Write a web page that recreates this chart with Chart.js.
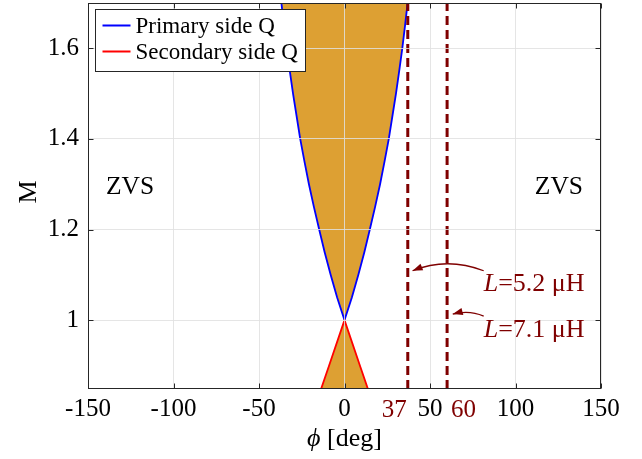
<!DOCTYPE html>
<html><head><meta charset="utf-8">
<script src="https://cdn.jsdelivr.net/npm/chart.js@4.4.0/dist/chart.umd.min.js"></script>
<style>html,body{margin:0;padding:0;background:#fff;overflow:hidden}</style>
</head><body>
<canvas id="c" width="642" height="459" style="display:block;width:642px;height:459px"></canvas>
<script>
// ---- data ----
const xTicks = [-150, -100, -50, 0, 50, 100, 150];
const yTicks = [1, 1.2, 1.4, 1.6];
const xRange = [-150, 150];
const yRange = [0.848, 1.7];
const primaryM   = [1.0, 1.05, 1.1, 1.15, 1.2, 1.25, 1.3, 1.35, 1.4, 1.45, 1.5, 1.55, 1.6, 1.65, 1.7];
const primaryPhi = [0, 4.3, 8.1, 11.6, 14.8, 17.9, 20.8, 23.4, 25.9, 28.0, 30.1, 32.0, 33.8, 35.4, 36.9];
const secondaryM   = [1.0, 0.9, 0.848];
const secondaryPhi = [0, 9.0, 13.7];
const inductorPhi = [37, 60];
const inductorValues = ['5.2', '7.1'];
const regionLabels = ['ZVS', 'ZVS'];
const regionPhi = [-125.4, 125.4];
const regionM = [1.278, 1.278];
const seriesLabels = ['Primary side Q', 'Secondary side Q'];
// annotation anchors (data coords): text baseline-left, arrow start, control, tip
const annText  = [[81.4, 1.0644], [81.4, 0.963]];
const annStart = [[81.4, 1.109], [81.4, 1.0089]];
const annCtrl  = [[60.1, 1.14], [72.9, 1.023]];
const annTip   = [[39.8, 1.109], [63.3, 1.0133]];

const DARKRED = '#7f0000';
const SERIF = '"Liberation Serif", "Times New Roman", serif';

function mirrorPolygon(m, phi) {
  const pts = [];
  for (let i = m.length - 1; i >= 0; i--) pts.push({x: -phi[i], y: m[i]});
  for (let i = 1; i < m.length; i++) pts.push({x: phi[i], y: m[i]});
  pts.push({x: -phi[m.length - 1], y: m[m.length - 1]});
  return pts;
}

const datasets = [
  {label: seriesLabels[0], data: mirrorPolygon(primaryM, primaryPhi), showLine: true, fill: 'shape',
   backgroundColor: '#dda033', borderColor: '#0000ff', borderWidth: 1.8, pointRadius: 0, tension: 0, order: 3, clip: 0},
  {label: seriesLabels[1], data: mirrorPolygon(secondaryM, secondaryPhi), showLine: true, fill: 'shape',
   backgroundColor: '#dda033', borderColor: '#ff0000', borderWidth: 1.8, pointRadius: 0, tension: 0, order: 2, clip: 0},
];
inductorPhi.forEach((p) => {
  datasets.push({label: 'L', data: [{x: p, y: yRange[0]}, {x: p, y: yRange[1]}], showLine: true, fill: false,
    borderColor: DARKRED, borderWidth: 3, borderDash: [9, 5], pointRadius: 0, order: 0, clip: 0});
});

const deco = {
  id: 'deco',
  afterDraw(chart) {
    const {ctx, chartArea: a, scales: {x, y}} = chart;
    ctx.save();
    const L = Math.floor(a.left) + 0.5, R = Math.floor(a.right) - 0.5;
    const T = Math.floor(a.top) + 0.5, B = Math.floor(a.bottom) - 0.5;
    // box
    ctx.strokeStyle = '#262626'; ctx.lineWidth = 1;
    ctx.strokeRect(L, T, R - L, B - T);
    // inward ticks
    ctx.beginPath();
    xTicks.forEach(v => { const px = Math.round(x.getPixelForValue(v)) + 0.5;
      ctx.moveTo(px, B); ctx.lineTo(px, B - 5); ctx.moveTo(px, T); ctx.lineTo(px, T + 5); });
    yTicks.forEach(v => { const py = Math.round(y.getPixelForValue(v)) + 0.5;
      ctx.moveTo(L, py); ctx.lineTo(L + 5, py); ctx.moveTo(R, py); ctx.lineTo(R - 5, py); });
    ctx.stroke();

    // axis titles
    ctx.fillStyle = '#000';
    ctx.textBaseline = 'alphabetic';
    const f26 = '26px ' + SERIF, f26i = 'italic 26px ' + SERIF;
    ctx.font = f26i; const wPhi = ctx.measureText('ϕ').width;
    ctx.font = f26; const wRest = ctx.measureText(' [deg]').width;
    const cx = (a.left + a.right) / 2, tx0 = cx - (wPhi + wRest) / 2;
    ctx.font = f26i; ctx.textAlign = 'left'; ctx.fillText('ϕ', tx0, a.bottom + 57);
    ctx.font = f26; ctx.fillText(' [deg]', tx0 + wPhi, a.bottom + 57);
    ctx.save();
    ctx.translate(36, (a.top + a.bottom) / 2 - 4); ctx.rotate(-Math.PI / 2);
    ctx.textAlign = 'center'; ctx.font = f26; ctx.fillText('M', 0, 0);
    ctx.restore();

    // 37 / 60 labels
    ctx.fillStyle = DARKRED; ctx.font = '25px ' + SERIF;
    ctx.textAlign = 'right'; ctx.fillText(String(inductorPhi[0]), x.getPixelForValue(inductorPhi[0]) - 1, a.bottom + 28);
    ctx.textAlign = 'left'; ctx.fillText(String(inductorPhi[1]), x.getPixelForValue(inductorPhi[1]) + 4, a.bottom + 28);

    // ZVS
    ctx.fillStyle = '#000'; ctx.font = '25.5px ' + SERIF; ctx.textAlign = 'center';
    regionLabels.forEach((t, i) => ctx.fillText(t, x.getPixelForValue(regionPhi[i]), y.getPixelForValue(regionM[i])));

    // annotations
    inductorValues.forEach((v, i) => {
      const px = p => [x.getPixelForValue(p[0]), y.getPixelForValue(p[1])];
      const [tx, ty] = px(annText[i]);
      ctx.fillStyle = DARKRED; ctx.textAlign = 'left';
      ctx.font = 'italic 26px ' + SERIF; ctx.fillText('L', tx, ty);
      const wl = ctx.measureText('L').width;
      ctx.font = '26px ' + SERIF; ctx.fillText('=' + v + ' μH', tx + wl, ty);
      const [sx, sy] = px(annStart[i]), [qx, qy] = px(annCtrl[i]), [ex, ey] = px(annTip[i]);
      ctx.strokeStyle = DARKRED; ctx.lineWidth = 1.3;
      ctx.beginPath(); ctx.moveTo(sx, sy); ctx.quadraticCurveTo(qx, qy, ex, ey); ctx.stroke();
      const ang = Math.atan2(ey - qy, ex - qx), hl = 10, hw = 3.6;
      ctx.beginPath();
      ctx.moveTo(ex, ey);
      ctx.lineTo(ex - hl * Math.cos(ang) + hw * Math.sin(ang), ey - hl * Math.sin(ang) - hw * Math.cos(ang));
      ctx.lineTo(ex - hl * Math.cos(ang) - hw * Math.sin(ang), ey - hl * Math.sin(ang) + hw * Math.cos(ang));
      ctx.closePath(); ctx.fillStyle = DARKRED; ctx.fill();
    });

    // legend
    const bx = Math.floor(a.left) + 7.5, by = Math.floor(a.top) + 6.5, bw = 210, bh = 62;
    ctx.fillStyle = '#fff'; ctx.fillRect(bx, by, bw, bh);
    ctx.strokeStyle = '#262626'; ctx.lineWidth = 1; ctx.strokeRect(bx, by, bw, bh);
    ctx.font = '23px ' + SERIF; ctx.textAlign = 'left'; ctx.textBaseline = 'middle';
    [0, 1].forEach(i => {
      const ly = by + 16 + i * 26;
      ctx.strokeStyle = chart.data.datasets[i].borderColor; ctx.lineWidth = 2;
      ctx.beginPath(); ctx.moveTo(bx + 7, ly); ctx.lineTo(bx + 35, ly); ctx.stroke();
      ctx.fillStyle = '#000'; ctx.fillText(chart.data.datasets[i].label, bx + 40, ly + 1);
    });
    ctx.restore();
  }
};

const gridCol = 'rgba(225,225,225,0.85)';
new Chart(document.getElementById('c'), {
  type: 'scatter',
  data: {datasets},
  options: {
    responsive: false, animation: false, devicePixelRatio: 1,
    layout: {padding: {left: 0, right: 41, top: 3, bottom: 0}},
    plugins: {legend: {display: false}, tooltip: {enabled: false}},
    scales: {
      x: {type: 'linear', min: xRange[0], max: xRange[1],
        afterBuildTicks: s => { s.ticks = xTicks.map(v => ({value: v})); },
        afterFit: s => { s.height = 70; s.paddingLeft = 0; s.paddingRight = 0; },
        ticks: {font: {family: SERIF, size: 25}, color: '#000', padding: 5, maxRotation: 0, autoSkip: false,
          callback: v => String(v)},
        grid: {color: gridCol, drawTicks: false, lineWidth: 1, z: 1},
        border: {display: false}},
      y: {type: 'linear', min: yRange[0], max: yRange[1],
        afterBuildTicks: s => { s.ticks = yTicks.map(v => ({value: v})); },
        afterFit: s => { s.width = 88; s.paddingTop = 0; s.paddingBottom = 0; },
        ticks: {font: {family: SERIF, size: 25}, color: '#000', padding: 9,
          callback: v => String(Math.round(v * 10) / 10)},
        grid: {color: gridCol, drawTicks: false, lineWidth: 1, z: 1},
        border: {display: false}}
    }
  },
  plugins: [deco]
});
</script>
</body></html>
